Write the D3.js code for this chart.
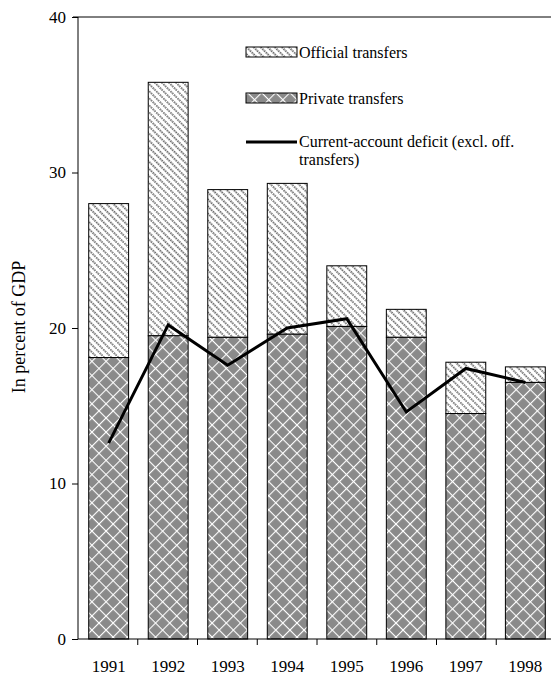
<!DOCTYPE html>
<html>
<head>
<meta charset="utf-8">
<script src="https://cdn.jsdelivr.net/npm/d3@7"></script>
<style>
  body { margin: 0; background: #fff; }
  text { font-family: "Liberation Serif", "Times New Roman", serif; }
</style>
</head>
<body>
<svg id="chart" width="551" height="679"></svg>
<script>
// data
var years = ["1991", "1992", "1993", "1994", "1995", "1996", "1997", "1998"];
var privateTransfers = [18.1, 19.5, 19.4, 19.6, 20.1, 19.4, 14.5, 16.5];
var totalTransfers = [28.0, 35.8, 28.9, 29.3, 24.0, 21.2, 17.8, 17.5];
var deficit = [12.6, 20.2, 17.6, 20.0, 20.6, 14.6, 17.4, 16.5];
var yTicks = [0, 10, 20, 30, 40];

var svg = d3.select("#chart");
var mLeft = 78, mRight = 556, mTop = 17, mBottom = 639;

var x = d3.scaleBand().domain(years).range([mLeft, mRight]).paddingInner(0.33).paddingOuter(0.18);
var xb = d3.scaleBand().domain(years).range([mLeft, mRight]);
var y = d3.scaleLinear().domain([0, 40]).range([mBottom, mTop]);

// patterns
var defs = svg.append("defs");
var off = defs.append("pattern")
  .attr("id", "official")
  .attr("patternUnits", "userSpaceOnUse")
  .attr("width", 5).attr("height", 5)
  .attr("patternTransform", "rotate(-45)");
off.append("rect").attr("width", 5).attr("height", 5).attr("fill", "#fff");
off.append("line")
  .attr("x1", 1).attr("y1", 0).attr("x2", 1).attr("y2", 5)
  .attr("stroke", "#222").attr("stroke-width", 1.3)
  .attr("stroke-dasharray", "1.5,1");

var priv = defs.append("pattern")
  .attr("id", "private")
  .attr("patternUnits", "userSpaceOnUse")
  .attr("width", 10).attr("height", 10)
  .attr("patternTransform", "rotate(45)");
priv.append("rect").attr("width", 10).attr("height", 10).attr("fill", "#8a8a8a");
priv.append("line").attr("x1", 0).attr("y1", 0).attr("x2", 0).attr("y2", 10)
  .attr("stroke", "#fff").attr("stroke-width", 2.2);
priv.append("line").attr("x1", 0).attr("y1", 0).attr("x2", 10).attr("y2", 0)
  .attr("stroke", "#fff").attr("stroke-width", 2.2);

// frame top line
svg.append("line")
  .attr("x1", mLeft - 5).attr("x2", 551)
  .attr("y1", mTop).attr("y2", mTop)
  .attr("stroke", "#000").attr("stroke-width", 1);

// bars
var bars = svg.append("g");
bars.selectAll("rect.off")
  .data(years)
  .enter().append("rect")
  .attr("class", "off")
  .attr("x", function (d) { return x(d); })
  .attr("width", x.bandwidth())
  .attr("y", function (d, i) { return y(totalTransfers[i]); })
  .attr("height", function (d, i) { return y(privateTransfers[i]) - y(totalTransfers[i]); })
  .attr("fill", "url(#official)")
  .attr("stroke", "#000").attr("stroke-width", 1);

bars.selectAll("rect.priv")
  .data(years)
  .enter().append("rect")
  .attr("class", "priv")
  .attr("x", function (d) { return x(d); })
  .attr("width", x.bandwidth())
  .attr("y", function (d, i) { return y(privateTransfers[i]); })
  .attr("height", function (d, i) { return y(0) - y(privateTransfers[i]); })
  .attr("fill", "url(#private)")
  .attr("stroke", "#000").attr("stroke-width", 1);

// deficit line
var line = d3.line()
  .x(function (d, i) { return x(years[i]) + x.bandwidth() / 2; })
  .y(function (d) { return y(d); });
svg.append("path")
  .datum(deficit)
  .attr("d", line)
  .attr("fill", "none")
  .attr("stroke", "#000")
  .attr("stroke-width", 3);

// axes
var yAxis = svg.append("g")
  .attr("transform", "translate(" + mLeft + ",0)")
  .call(d3.axisLeft(y).tickValues(yTicks).tickSize(6).tickPadding(6));
yAxis.selectAll("text").attr("font-size", 17).attr("font-family", "Liberation Serif");
yAxis.select(".domain").attr("d", "M0," + mBottom + "V" + mTop);

var xAxis = svg.append("g")
  .attr("transform", "translate(0," + mBottom + ")");
xAxis.append("line").attr("x1", mLeft).attr("x2", 551)
  .attr("stroke", "#000").attr("stroke-width", 1);
xAxis.selectAll("line.tick")
  .data(years.slice(1))
  .enter().append("line")
  .attr("class", "tick")
  .attr("x1", function (d) { return xb(d); })
  .attr("x2", function (d) { return xb(d); })
  .attr("y1", 0).attr("y2", 6)
  .attr("stroke", "#000");
xAxis.selectAll("text")
  .data(years)
  .enter().append("text")
  .attr("x", function (d) { return x(d) + x.bandwidth() / 2; })
  .attr("y", 33)
  .attr("text-anchor", "middle")
  .attr("font-size", 17)
  .text(function (d) { return d; });

// y title
svg.append("text")
  .attr("transform", "translate(25,327) rotate(-90)")
  .attr("text-anchor", "middle")
  .attr("font-size", 18)
  .text("In percent of GDP");

// legend
var lg = svg.append("g");
lg.append("rect").attr("x", 246).attr("y", 47).attr("width", 51).attr("height", 10)
  .attr("fill", "url(#official)").attr("stroke", "#000").attr("stroke-width", 1);
lg.append("text").attr("x", 299).attr("y", 58).attr("font-size", 16).text("Official transfers");
lg.append("rect").attr("x", 246).attr("y", 93).attr("width", 51).attr("height", 10)
  .attr("fill", "url(#private)").attr("stroke", "#000").attr("stroke-width", 1);
lg.append("text").attr("x", 299).attr("y", 104).attr("font-size", 16).text("Private transfers");
lg.append("line").attr("x1", 246).attr("x2", 297).attr("y1", 142).attr("y2", 142)
  .attr("stroke", "#000").attr("stroke-width", 3);
lg.append("text").attr("x", 299).attr("y", 147).attr("font-size", 16)
  .text("Current-account deficit (excl. off.");
lg.append("text").attr("x", 299).attr("y", 165).attr("font-size", 16).text("transfers)");
</script>
</body>
</html>
